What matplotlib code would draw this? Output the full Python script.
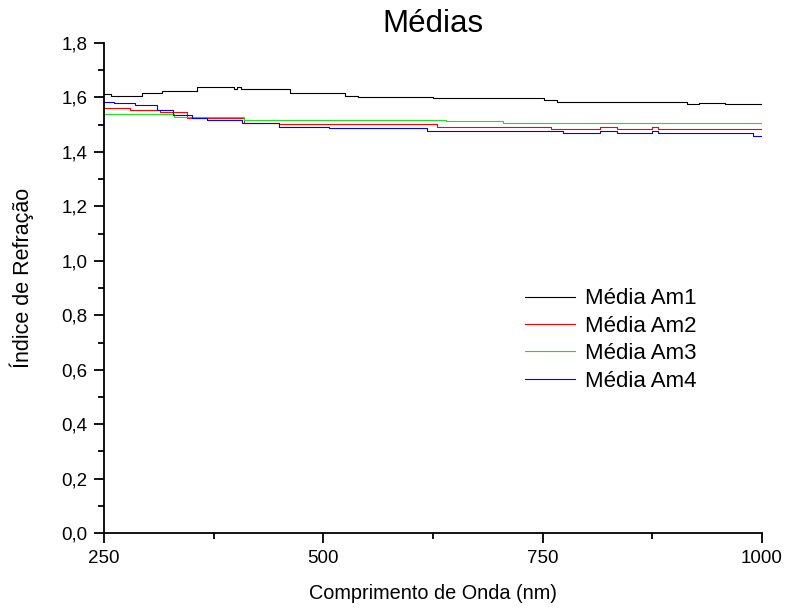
import matplotlib
matplotlib.use("Agg")
import matplotlib.pyplot as plt
from matplotlib import font_manager
from matplotlib.ticker import MultipleLocator, FuncFormatter

plt.rcParams['font.family'] = ['Liberation Sans', 'DejaVu Sans']

_names = {f.name for f in font_manager.fontManager.ttflist}
if 'Liberation Sans Narrow' in _names:
    narrow = ['Liberation Sans Narrow', 'Liberation Sans', 'DejaVu Sans']
    xl_size, yl_size = 17, 18.5
else:
    narrow = ['Liberation Sans', 'DejaVu Sans']
    xl_size, yl_size = 14.3, 15.5

title = "Médias"
xlabel = "Comprimento de Onda (nm)"
ylabel = "Índice de Refração"
labels = ["Média Am1", "Média Am2", "Média Am3", "Média Am4"]
colors = ["black", "red", "#22dd22", "blue"]

am1_x = [250, 258, 294, 316, 356, 398, 402, 406, 462, 525, 540, 625, 635, 752, 766, 915, 928, 958, 970, 1000]
am1_y = [1.612, 1.604, 1.618, 1.625, 1.637, 1.630, 1.637, 1.632, 1.615, 1.607, 1.603, 1.597, 1.597, 1.590, 1.585, 1.575, 1.580, 1.575, 1.577, 1.577]

am2_x = [250, 280, 314, 345, 410, 450, 630, 760, 815, 835, 875, 882, 1000]
am2_y = [1.560, 1.554, 1.545, 1.523, 1.507, 1.502, 1.493, 1.483, 1.493, 1.483, 1.493, 1.483, 1.478]

am3_x = [250, 330, 410, 640, 705, 1000]
am3_y = [1.540, 1.530, 1.517, 1.515, 1.505, 1.505]

am4_x = [250, 262, 285, 310, 329, 350, 368, 408, 450, 507, 618, 773, 815, 835, 875, 882, 990, 1000]
am4_y = [1.585, 1.580, 1.573, 1.554, 1.536, 1.526, 1.517, 1.507, 1.493, 1.487, 1.477, 1.468, 1.476, 1.468, 1.476, 1.468, 1.458, 1.458]

series = [(am1_x, am1_y), (am2_x, am2_y), (am3_x, am3_y), (am4_x, am4_y)]

fig = plt.figure(figsize=(7.87, 6.10), dpi=100)
ax = fig.add_axes([0.132, 0.126, 0.836, 0.8035])

for (xs, ys), lab, c in zip(series, labels, colors):
    ax.plot(xs, ys, drawstyle='steps-post', color=c, lw=0.8, label=lab)

ax.set_xlim(250, 1000)
ax.set_ylim(0, 1.8)
ax.xaxis.set_major_locator(MultipleLocator(250))
ax.xaxis.set_minor_locator(MultipleLocator(125))
ax.yaxis.set_major_locator(MultipleLocator(0.2))
ax.yaxis.set_minor_locator(MultipleLocator(0.1))
ax.yaxis.set_major_formatter(FuncFormatter(lambda v, p: f"{v:.1f}".replace('.', ',')))

for s in ['top', 'right']:
    ax.spines[s].set_visible(False)
for s in ['left', 'bottom']:
    ax.spines[s].set_linewidth(1.3)

ax.tick_params(which='major', direction='out', length=7, width=1.3, labelsize=13.5, pad=5)
ax.tick_params(which='minor', direction='out', length=4, width=1.3)

ax.set_title(title, fontsize=22.5, pad=8)
ax.set_xlabel(xlabel, fontsize=xl_size, family=narrow)
ax.set_ylabel(ylabel, fontsize=yl_size, family=narrow)
ax.xaxis.set_label_coords(0.5, -0.103)
ax.yaxis.set_label_coords(-0.106, 0.52)

ax.legend(loc='center left', bbox_to_anchor=(0.64, 0.394), frameon=False,
          fontsize=16, handlelength=2.25, handletextpad=0.45, labelspacing=0.29,
          borderpad=0, borderaxespad=0)

fig.savefig("out.png", dpi=100)
